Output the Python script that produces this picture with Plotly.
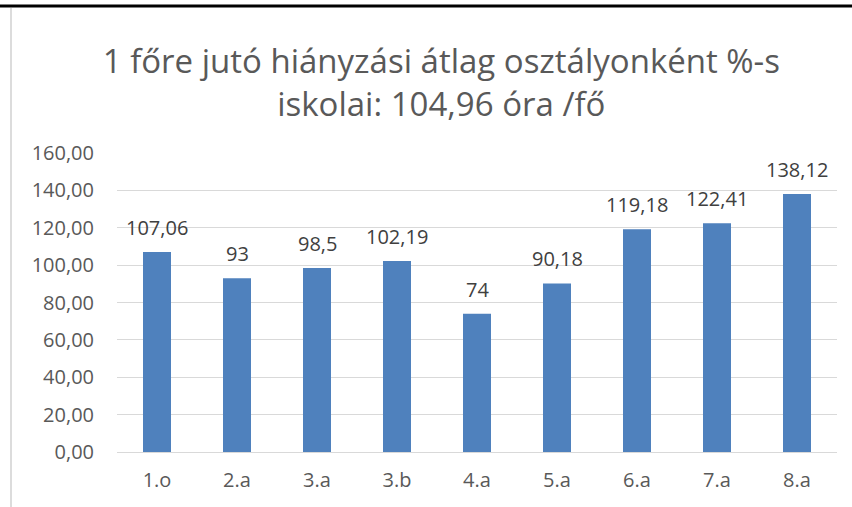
import plotly.graph_objects as go

categories = ["1.o", "2.a", "3.a", "3.b", "4.a", "5.a", "6.a", "7.a", "8.a"]
values = [107.06, 93, 98.5, 102.19, 74, 90.18, 119.18, 122.41, 138.12]
labels = [f"{v:g}".replace(".", ",") for v in values]
title_lines = ["1 főre jutó hiányzási átlag osztályonként %-s", "iskolai: 104,96 óra /fő"]

W, H = 852, 507
L, R, T, B = 117, 15, 153, 55
FONT = "'Open Sans', sans-serif"

fig = go.Figure(go.Bar(
    x=categories, y=values,
    marker=dict(color="#4f81bd", line=dict(width=0)),
    width=0.35, hoverinfo="skip",
))

for c, v, t in zip(categories, values, labels):
    fig.add_annotation(x=c, y=v, text=t, showarrow=False, yanchor="bottom",
                       yshift=9, font=dict(size=20, color="#404040", family=FONT))

def px_x(p):
    return (p - L) / (W - L - R)

def px_y(p):
    return (H - B - p) / (H - T - B)

fig.update_layout(
    width=W, height=H,
    margin=dict(l=L, r=R, t=T, b=B),
    paper_bgcolor="white", plot_bgcolor="white",
    separators=", ",
    font=dict(family=FONT, color="#595959"),
    showlegend=False,
    title=dict(text="<br>".join(title_lines), x=0.518, xanchor="center",
               y=1 - 73 / H, yanchor="middle",
               font=dict(size=33, color="#595959", family=FONT)),
    xaxis=dict(showgrid=False, showline=False, ticks="", ticklabelstandoff=14,
               tickfont=dict(size=20, color="#595959", family=FONT)),
    yaxis=dict(range=[0, 160], dtick=20, tickformat=".2f",
               showgrid=True, gridcolor="#d9d9d9", gridwidth=1,
               zeroline=True, zerolinecolor="#d9d9d9", zerolinewidth=1,
               showline=False, ticks="", ticklabelstandoff=22,
               tickfont=dict(size=20, color="#595959", family=FONT)),
    shapes=[
        dict(type="line", xref="paper", yref="paper",
             x0=px_x(0), x1=px_x(W), y0=px_y(6), y1=px_y(6),
             line=dict(color="black", width=3)),
        dict(type="line", xref="paper", yref="paper",
             x0=px_x(11), x1=px_x(11), y0=px_y(8), y1=px_y(H),
             line=dict(color="#d0d0d0", width=1.5)),
    ],
)

fig.write_html("out.html", config={"displayModeBar": False},
               post_script="document.body.style.margin='0';")
